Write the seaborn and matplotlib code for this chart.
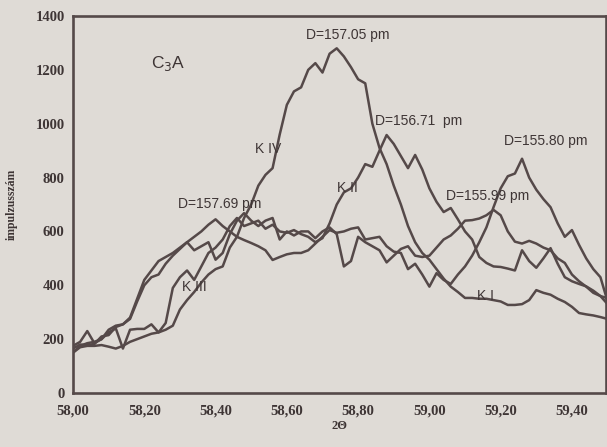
import numpy as np
import pandas as pd
import matplotlib
matplotlib.use("Agg")
import matplotlib.pyplot as plt
from matplotlib.ticker import FuncFormatter
import seaborn as sns

# 2-theta scan positions (degrees), 0.02 step
theta = np.round(np.arange(58.00, 59.5001, 0.02), 2)

k4 = [150, 170, 175, 175, 178, 172, 165, 175, 190, 200,
      210, 220, 225, 235, 250, 310, 345, 375, 410, 440,
      460, 470, 540, 580, 650, 700, 770, 810, 835, 960,
      1070, 1120, 1135, 1200, 1225, 1190, 1260, 1280, 1250, 1210,
      1165, 1150, 1000, 910, 850, 770, 700, 620, 560, 520,
      495, 460, 425, 395, 375, 353, 353, 350, 350, 345,
      340, 327, 327, 330, 345, 382, 372, 365, 350, 338,
      320, 297, 292, 288, 282, 275]

k2 = [150, 175, 185, 190, 200, 225, 240, 165, 235, 238,
      238, 255, 225, 260, 390, 430, 455, 420, 470, 520,
      540, 570, 620, 650, 620, 630, 640, 610, 625, 600,
      595, 605, 590, 580, 560, 575, 630, 700, 745, 760,
      800, 850, 840, 900, 958, 925, 880, 835, 884, 830,
      760, 710, 672, 687, 645, 600, 570, 505, 483, 470,
      468, 462, 455, 530, 490, 465, 500, 538, 480, 430,
      415, 405, 396, 380, 360, 330]

k3 = [175, 190, 230, 185, 200, 235, 250, 255, 280, 350,
      420, 455, 490, 505, 520, 540, 560, 580, 600, 625,
      645, 620, 600, 580, 568, 557, 545, 530, 494, 505,
      515, 520, 520, 530, 555, 580, 605, 595, 600, 610,
      615, 570, 575, 580, 545, 525, 520, 460, 480, 440,
      395, 445, 420, 405, 440, 470, 510, 560, 615, 690,
      760, 805, 815, 870, 800, 755, 720, 690, 630, 580,
      605, 550, 500, 460, 430, 340]

k1 = [165, 180, 178, 182, 210, 215, 245, 255, 275, 340,
      400, 430, 440, 480, 510, 535, 560, 530, 545, 560,
      495, 520, 590, 640, 668, 640, 620, 640, 650, 570,
      600, 585, 600, 600, 575, 600, 615, 590, 470, 490,
      580, 560, 545, 530, 485, 510, 535, 545, 510, 505,
      510, 540, 570, 585, 610, 640, 642, 648, 660, 680,
      660, 600, 562, 555, 565, 555, 540, 530, 500, 483,
      440, 415, 395, 372, 360, 352]

x_ticks = [58.00, 58.20, 58.40, 58.60, 58.80, 59.00, 59.20, 59.40]
y_ticks = [0, 200, 400, 600, 800, 1000, 1200, 1400]

labels = [
    ("K IV", 58.51, 905),
    ("D=157.05 pm", 58.655, 1330),
    ("D=156.71  pm", 58.846, 1010),
    ("D=155.80 pm", 59.21, 935),
    ("D=155.99 pm", 59.048, 730),
    ("D=157.69 pm", 58.294, 702),
    ("K II", 58.74, 760),
    ("K III", 58.305, 392),
    ("K I", 59.135, 362),
]

series = {"K I": k1, "K II": k2, "K III": k3, "K IV": k4}
df = pd.concat(
    [pd.DataFrame({"theta": theta, "counts": v, "sample": name})
     for name, v in series.items()],
    ignore_index=True,
)

paper = "#dfdbd6"
ink = "#554949"
text_ink = "#3e3535"

sns.set_theme(style="white")
plt.rcParams["font.family"] = ["Liberation Sans", "DejaVu Sans"]

fig = plt.figure(figsize=(6.07, 4.47), dpi=100, facecolor=paper)
ax = fig.add_axes([0.1203, 0.1208, 0.8777, 0.8434])
ax.set_facecolor(paper)

sns.lineplot(data=df, x="theta", y="counts", hue="sample",
             palette={n: ink for n in series}, legend=False,
             linewidth=1.8, sort=False, ax=ax)

ax.set_xlim(58.0, 59.495)
ax.set_ylim(0, 1400)
ax.set_xticks(x_ticks)
ax.set_yticks(y_ticks)
ax.xaxis.set_major_formatter(FuncFormatter(lambda v, p: f"{v:.2f}".replace(".", ",")))

for side in ["left", "bottom", "top", "right"]:
    ax.spines[side].set_visible(True)
    ax.spines[side].set_color(ink)
    ax.spines[side].set_linewidth(1.9)

tick_font = dict(family="Liberation Serif", weight="bold", size=10.5)
ax.tick_params(axis="both", direction="inout", length=6, width=1.2,
               color=ink, labelcolor=text_ink, pad=3)
ax.tick_params(axis="x", pad=5)
for lab in ax.get_xticklabels() + ax.get_yticklabels():
    lab.set_fontproperties(tick_font)

ax.set_xlabel("2Θ", fontsize=9, fontweight="bold", family="Liberation Serif",
              color=text_ink, labelpad=2)
ax.set_ylabel("impulzusszám", fontsize=8.5, fontweight="bold",
              family="Liberation Serif", color=text_ink, labelpad=13)

# sample name in the upper left corner
ax.text(58.22, 1225, "C$_3$A", fontsize=12.5, color=text_ink,
        ha="left", va="center")

for text, x, y in labels:
    ax.text(x, y, text, fontsize=10, color=text_ink, ha="left", va="center")

fig.savefig("out.png", dpi=100, facecolor=paper)
